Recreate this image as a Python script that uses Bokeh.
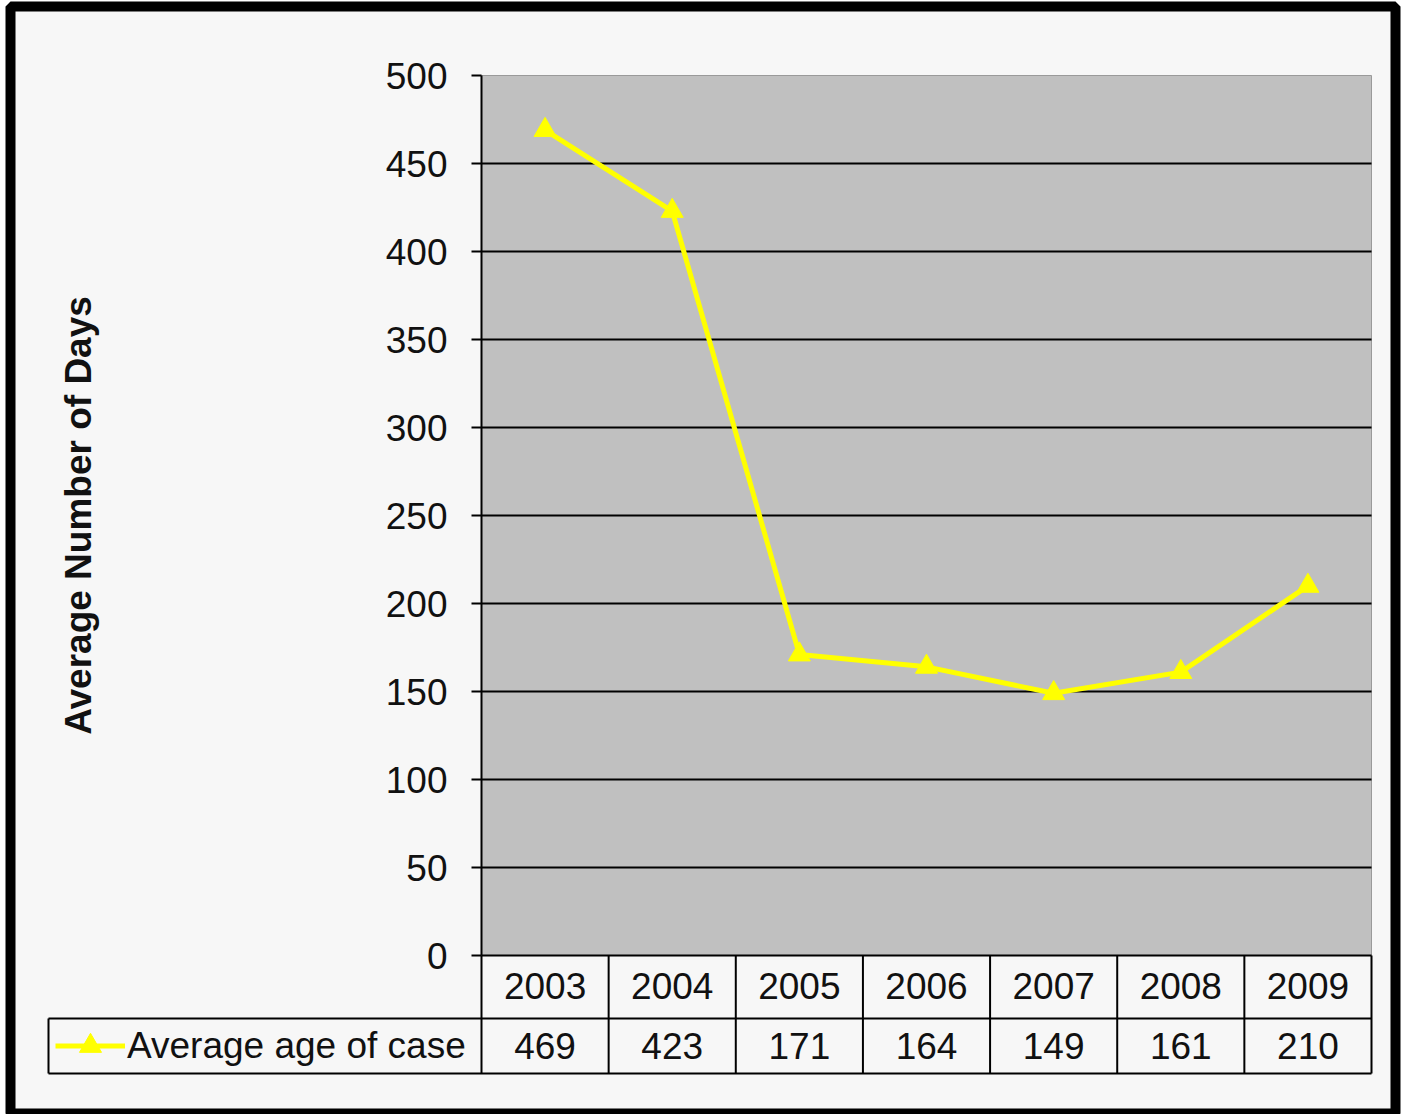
from bokeh.plotting import figure
from bokeh.models import Range1d, FixedTicker, Legend, LegendItem
from bokeh.core.properties import value
from bokeh.embed import file_html
from bokeh.resources import INLINE

# ---- data ----
years = ["2003", "2004", "2005", "2006", "2007", "2008", "2009"]
avg_age = [469, 423, 171, 164, 149, 161, 210]
y_ticks = [0, 50, 100, 150, 200, 250, 300, 350, 400, 450, 500]
series_name = "Average age of case"
y_title = "Average Number of Days"

# ---- layout (pixels) ----
W, H = 1402, 1114
FRAME_L, FRAME_R, FRAME_T, FRAME_B = 10, 1395, 6, 1114
PLOT_L, PLOT_R, PLOT_T, PLOT_B = 481, 1371, 75, 955
ROW_MID, ROW_BOT, KEY_L = 1018, 1073, 48
YEAR_ROW_C, VALUE_ROW_C = 985, 1045

n = len(years)
xs = list(range(n))
cell = (PLOT_R - PLOT_L) / n
ppu = (PLOT_B - PLOT_T) / (y_ticks[-1] - y_ticks[0])


def dx(px):
    return -0.5 + (px - PLOT_L) / cell


def dy(py):
    return y_ticks[0] + (PLOT_B - py) / ppu


FONT = "Liberation Sans"
FONT_SIZE = "37px"
TEXT = "#111111"
YELLOW = "#FFFF00"

p = figure(
    width=W, height=H,
    x_range=Range1d(dx(FRAME_L), dx(FRAME_R)),
    y_range=Range1d(dy(FRAME_B), dy(FRAME_T)),
    min_border_left=FRAME_L, min_border_right=W - FRAME_R,
    min_border_top=FRAME_T, min_border_bottom=H - FRAME_B,
    x_axis_location=None,
    output_backend="svg", toolbar_location=None,
    background_fill_color="#F7F7F7", border_fill_color="white",
    outline_line_color="black", outline_line_width=10,
)
p.grid.visible = False

# plot area
p.quad(left=[-0.5], right=[n - 0.5], bottom=[y_ticks[0]], top=[y_ticks[-1]],
       fill_color="#C0C0C0", line_color="#9A9A9A", line_width=1)

# horizontal gridlines
inner = y_ticks[1:-1]
p.segment(x0=[-0.5] * len(inner), x1=[n - 0.5] * len(inner), y0=inner, y1=inner,
          line_color="black", line_width=2)

# data table grid
tbl_mid, tbl_bot, key_l = dy(ROW_MID), dy(ROW_BOT), dx(KEY_L)
h_x0 = [-0.5, key_l, key_l]
h_y = [y_ticks[0], tbl_mid, tbl_bot]
p.segment(x0=h_x0, x1=[n - 0.5] * 3, y0=h_y, y1=h_y, line_color="black", line_width=2)
v_x = [i - 0.5 for i in range(n + 1)] + [key_l]
v_y0 = [y_ticks[0]] * (n + 1) + [tbl_mid]
p.segment(x0=v_x, x1=v_x, y0=v_y0, y1=[tbl_bot] * (n + 2), line_color="black", line_width=2)

# table texts
p.text(x=xs, y=[dy(YEAR_ROW_C)] * n, text=years, text_align="center", text_baseline="middle",
       text_font=value(FONT), text_font_size=FONT_SIZE, text_color=TEXT)
p.text(x=xs, y=[dy(VALUE_ROW_C)] * n, text=[str(v) for v in avg_age], text_align="center",
       text_baseline="middle", text_font=value(FONT), text_font_size=FONT_SIZE, text_color=TEXT)

# series
line_r = p.line(xs, avg_age, line_color=YELLOW, line_width=5)
mark_r = p.scatter(xs, avg_age, marker="triangle", size=22, fill_color=YELLOW, line_color=YELLOW)

# y axis on the plot area's left edge
ax = p.yaxis[0]
ax.fixed_location = -0.5
ax.bounds = (y_ticks[0], y_ticks[-1])
ax.ticker = FixedTicker(ticks=y_ticks)
ax.minor_tick_line_color = None
ax.major_tick_out = 10
ax.major_tick_in = 0
ax.major_tick_line_width = 2
ax.axis_line_width = 2
ax.major_label_standoff = 24
ax.major_label_text_font = FONT
ax.major_label_text_font_size = FONT_SIZE
ax.major_label_text_color = TEXT
ax.axis_label = y_title
ax.axis_label_text_font = FONT
ax.axis_label_text_font_style = "bold"
ax.axis_label_text_font_size = "37px"
ax.axis_label_text_color = TEXT
ax.axis_label_standoff = 284

# legend key inside the table's first column
legend = Legend(
    items=[LegendItem(label=series_name, renderers=[line_r, mark_r])],
    location=(KEY_L + 7 - FRAME_L, FRAME_B - ROW_BOT),
    padding=0, margin=0, spacing=0,
    glyph_width=70, glyph_height=55, label_height=55, label_standoff=2,
    label_text_font=FONT, label_text_font_size=FONT_SIZE, label_text_color=TEXT,
    border_line_color=None, background_fill_alpha=0,
)
p.add_layout(legend)

open("out.html", "w").write(file_html(p, INLINE))
